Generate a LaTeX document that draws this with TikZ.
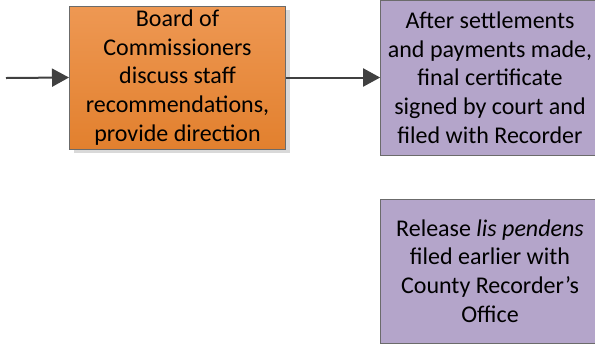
\documentclass[tikz,border=0pt]{standalone}
\usepackage{fontspec}
\setmainfont{Carlito}
\usepackage{tikz}
\usetikzlibrary{arrows.meta,shadows}
\definecolor{linegray}{HTML}{404040}
\definecolor{boxedge}{HTML}{6B6B6B}
\definecolor{boardtop}{HTML}{EE9853}
\definecolor{boardbot}{HTML}{E2802E}
\definecolor{steppurple}{HTML}{B4A5CA}
\begin{document}
\begin{tikzpicture}[x=0.75pt,y=-0.75pt,
    box/.style={draw=boxedge,line width=0.75pt,align=center,inner sep=0pt,
      font=\fontsize{18}{21.5}\selectfont},
    board/.style={box,top color=boardtop,bottom color=boardbot,
      drop shadow={shadow xshift=3pt,shadow yshift=-3pt,fill=black,opacity=0.15},
      minimum width=162pt,minimum height=107.25pt},
    purplebox/.style={box,fill=steppurple,minimum width=164pt},
    arr/.style={draw=linegray,line width=1.5pt,
      -{Triangle[length=12.75pt,width=13.5pt]}}]
  \useasboundingbox (0,0) rectangle (595,344);
            \coordinate (start) at (6,78);
            \node[board] (discuss) at (177.5,77.5) {Board of\\Commissioners\\discuss staff\\recommendations,\\provide direction};
            \node[purplebox,minimum height=116.25pt] (final) at (490,77.5) {After settlements\\and payments made,\\final certificate\\signed by court and\\filed with Recorder};
            \node[purplebox,minimum height=108pt] (release) at (490,271) {Release \textit{lis pendens}\\filed earlier with\\County Recorder’s\\Office};
            \draw[arr] (start) -- (discuss.west);
            \draw[arr] (discuss.east) -- (final.west);
        \end{tikzpicture}
\end{document}
